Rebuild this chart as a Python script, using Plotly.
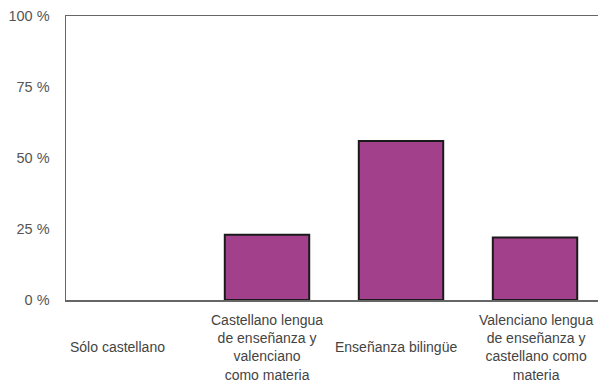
import plotly.graph_objects as go

categories = ["Sólo castellano",
              "Castellano lengua<br>de enseñanza y<br>valenciano<br>como materia",
              "Enseñanza bilingüe",
              "Valenciano lengua<br>de enseñanza y<br>castellano como<br>materia"]
values = [0, 23, 56, 22]
y_tickvals = [0, 25, 50, 75, 100]
y_ticktext = ["0 %", "25 %", "50 %", "75 %", "100 %"]

x_idx = list(range(len(categories)))
label_xshift = [-16, 0, -5, 1]
outline_w = [2 if v > 0 else 0 for v in values]

fig = go.Figure()
fig.add_trace(go.Bar(
    x=x_idx, y=values, width=0.63,
    marker=dict(color="#A3408C", line=dict(color="#1a1a1a", width=outline_w)),
    hoverinfo="skip",
))

annotations = []
for i, (cat, dx) in enumerate(zip(categories, label_xshift)):
    annotations.append(dict(
        x=i, xref="x", y=0, yref="paper", yanchor="middle", xanchor="center",
        yshift=-47, xshift=dx, text=cat, showarrow=False, align="center",
        font=dict(family="Liberation Sans, Arial, sans-serif", size=14, color="#444"),
    ))

fig.update_layout(
    width=598, height=387,
    margin=dict(l=66, r=0, t=16, b=87),
    paper_bgcolor="white", plot_bgcolor="white",
    showlegend=False,
    annotations=annotations,
    font=dict(family="Liberation Sans, Arial, sans-serif", size=14, color="#555"),
)
fig.update_xaxes(range=[-0.5, 3.47], showticklabels=False, showgrid=False,
                 zeroline=False, showline=True, mirror=True, linecolor="#666",
                 linewidth=1.5, ticks="")
fig.update_yaxes(range=[0, 100], tickvals=y_tickvals, ticktext=y_ticktext,
                 showgrid=False, zeroline=False, showline=True, linecolor="#666",
                 linewidth=1.5, ticks="", ticklabelstandoff=12,
                 tickfont=dict(size=14.5, color="#555"))

fig.write_html("out.html",
               config={"displayModeBar": False, "staticPlot": True},
               post_script="document.body.style.margin='0';document.body.style.overflow='hidden';")
